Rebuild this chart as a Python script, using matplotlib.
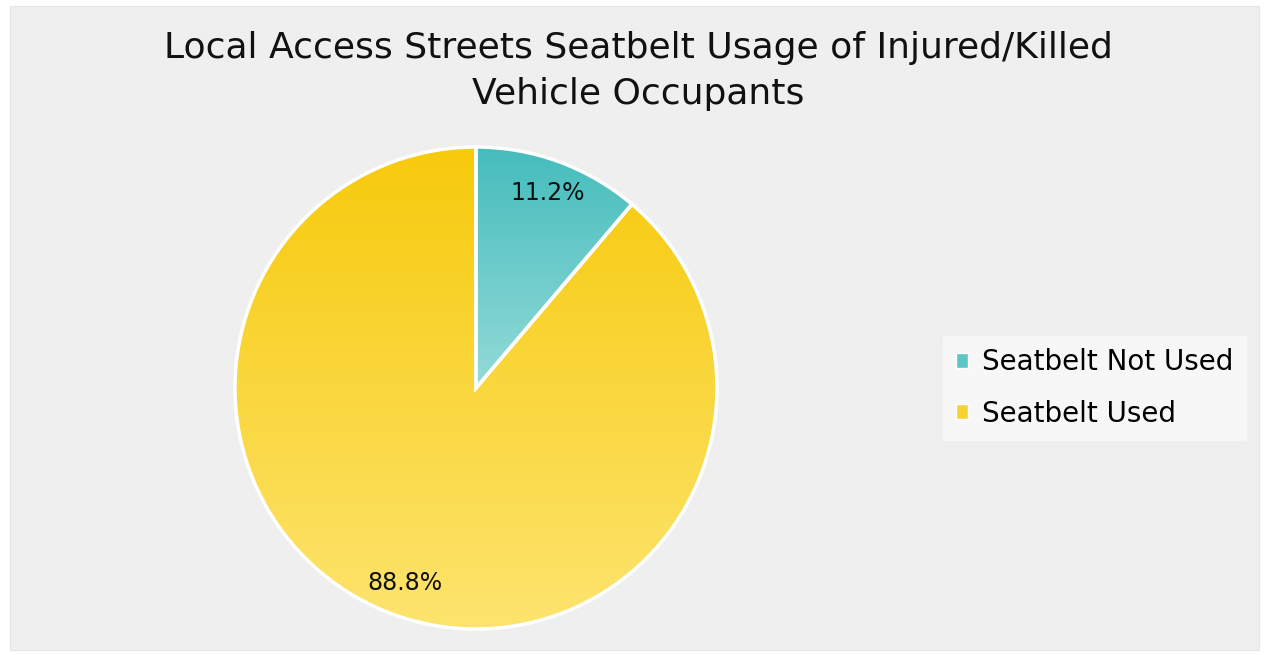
import matplotlib
matplotlib.use("Agg")
import matplotlib.pyplot as plt
import numpy as np
from matplotlib.patches import Rectangle
from matplotlib.colors import LinearSegmentedColormap

labels = ["Seatbelt Not Used", "Seatbelt Used"]
values = [11.2, 88.8]
top_colors = ["#45bcbc", "#f7ca0c"]
bottom_colors = ["#93dbd8", "#fde46e"]
title = "Local Access Streets Seatbelt Usage of Injured/Killed\nVehicle Occupants"

W, H = 1267, 655
fig = plt.figure(figsize=(W / 100, H / 100), dpi=100, facecolor="white")

# grey card behind everything
fig.patches.append(Rectangle((10 / W, 5 / H), 1249 / W, 644 / H, transform=fig.transFigure,
                             facecolor="#efefef", edgecolor="#e6e6e6", lw=0.8, zorder=-5))

fig.text(638 / W, 1 - 71 / H, title, ha="center", va="center", fontsize=26,
         family="DejaVu Sans", color="#111111", linespacing=1.45)

# pie axes: centre (476, 388), radius ~241 px
r = 241
ax = fig.add_axes(((476 - r) / W, 1 - (388 + r) / H, 2 * r / W, 2 * r / H))
ax.set_facecolor("none")
wedges, texts, autotexts = ax.pie(values, startangle=90, counterclock=False,
                                  autopct="%1.1f%%", pctdistance=0.86,
                                  colors=top_colors,
                                  wedgeprops=dict(edgecolor="white", linewidth=2.5),
                                  textprops=dict(fontsize=17, color="#111111"))

# vertical gradient inside each wedge
for w, c1, c2 in zip(wedges, top_colors, bottom_colors):
    verts = w.get_path().vertices
    y0, y1 = verts[:, 1].min(), verts[:, 1].max()
    x0, x1 = verts[:, 0].min(), verts[:, 0].max()
    cmap = LinearSegmentedColormap.from_list("g", [c2, c1])
    grad = np.linspace(0, 1, 256).reshape(-1, 1)
    im = ax.imshow(grad, cmap=cmap, origin="lower", extent=(x0, x1, y0, y1),
                   aspect="auto", zorder=1.1)
    im.set_clip_path(w)
    w.set_facecolor("none")
    w.set_zorder(1.2)
for t in autotexts:
    t.set_zorder(5)
ax.set_aspect("equal")
ax.set_xlim(-1.0, 1.0)
ax.set_ylim(-1.0, 1.0)
ax.axis("off")

# legend
handles = [Rectangle((0, 0), 1, 1, facecolor=c, edgecolor="white", lw=1.0)
           for c in ["#5cc6c4", "#f8d232"]]
leg = fig.legend(handles, labels, loc="center left",
                 bbox_to_anchor=(943 / W, 1 - 388 / H), fontsize=20,
                 frameon=True, fancybox=False, handlelength=0.45, handleheight=0.45,
                 handletextpad=0.5, labelspacing=0.85, borderpad=0.45,
                 borderaxespad=0)
leg.get_frame().set_facecolor("#f7f7f7")
leg.get_frame().set_edgecolor("#f7f7f7")
leg.get_frame().set_alpha(1)

fig.savefig("out.png", dpi=100, facecolor="white")
